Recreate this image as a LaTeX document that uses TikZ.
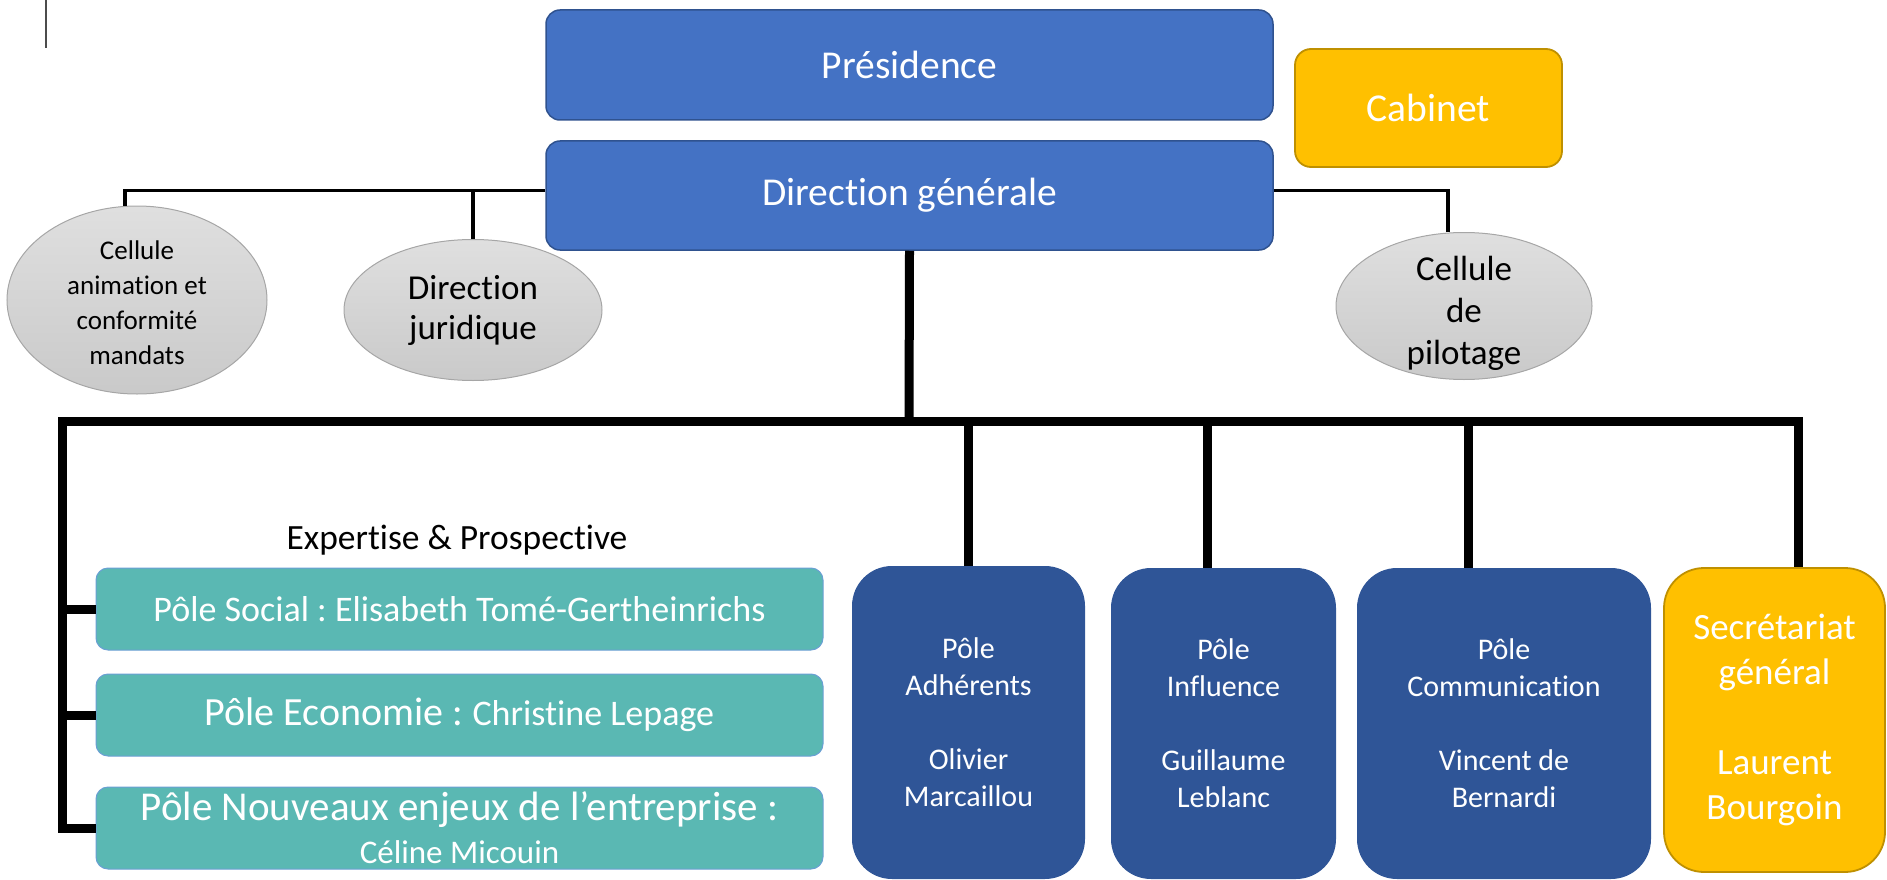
\documentclass[tikz,border=0pt]{standalone}
\usepackage{fontspec}
\setmainfont{Carlito}[Ligatures=NoCommon]
\usetikzlibrary{shapes.geometric}
\definecolor{pblue}{HTML}{4472C4}
\definecolor{pblueb}{HTML}{2F528F}
\definecolor{dblue}{HTML}{2F5597}
\definecolor{gold}{HTML}{FFC000}
\definecolor{goldb}{HTML}{BF9000}
\definecolor{tealf}{HTML}{5AB8B3}
\definecolor{tealb}{HTML}{6A9FD4}
\definecolor{ellb}{HTML}{A6A6A6}
\frenchspacing
\begin{document}
\begin{tikzpicture}[x=1pt,y=-1pt,
 topbox/.style={draw=pblueb, line width=1.5pt, fill=pblue, rounded corners=14pt, text=white, inner sep=0pt, font=\fontsize{39.5}{47}\selectfont},
 cabbox/.style={draw=goldb, line width=1.8pt, fill=gold, rounded corners=16pt, text=white, inner sep=0pt, align=center},
 oval/.style={ellipse, draw=ellb, line width=1pt, top color=gray!25, bottom color=gray!42, inner sep=0pt},
 ovaltext/.style={align=center, inner sep=0pt, text=black},
 tealbox/.style={draw=tealb, line width=1pt, fill=tealf, rounded corners=12pt, text=white, inner sep=0pt, minimum width=727pt, minimum height=82pt, align=center},
 polebox/.style={fill=dblue, rounded corners=40pt, text=white, inner sep=0pt, align=center, font=\fontsize{30}{37}\selectfont},
 thinlink/.style={line width=3.5pt, black},
 thicklink/.style={line width=9pt, black, line join=miter},
]
\useasboundingbox (0,0) rectangle (1887,880);
\draw[line width=2pt, gray!60!black] (46,0) -- (46,48);

% top boxes
\node[topbox, minimum width=727pt, minimum height=110pt] (pres) at (909.5,65) {Présidence};
\node[topbox, minimum width=727pt, minimum height=109pt] (dg) at (909.5,195.5) {Direction générale};
\node[cabbox, minimum width=267pt, minimum height=118pt, font=\fontsize{39.5}{47}\selectfont] (cab) at (1428.5,108) {Cabinet};

% ellipses
\node[oval, minimum width=260pt, minimum height=188pt] (cam) at (137,300) {};
\node[ovaltext, font=\fontsize{27}{35}\selectfont] (camt) at ([yshift=-3pt]cam.center) {Cellule\\animation et\\conformité\\mandats};
\node[oval, minimum width=258pt, minimum height=141pt] (dj) at (473,310) {};
\node[ovaltext, font=\fontsize{35}{40}\selectfont] (djt) at (dj.center) {Direction\\juridique};
\node[oval, minimum width=256pt, minimum height=147pt] (pil) at (1464,306) {};
\node[ovaltext, font=\fontsize{35}{42}\selectfont] (pilt) at ([yshift=-7pt]pil.center) {Cellule\\de\\pilotage};

% expertise
\node[inner sep=0pt, font=\fontsize{35.5}{42}\selectfont] (exp) at (457,540) {Expertise \& Prospective};
\node[tealbox, font=\fontsize{36}{43}\selectfont] (p1) at (459.5,609) {Pôle Social : Elisabeth Tomé-Gertheinrichs};
\node[tealbox] (p2) at (459.5,715) {{\fontsize{40}{48}\selectfont Pôle Economie : }{\fontsize{36}{43}\selectfont Christine Lepage}};
\node[tealbox, font=\fontsize{36}{43}\selectfont] (p3) at (459.5,828) {{\fontsize{41}{43}\selectfont Pôle Nouveaux enjeux de l’entreprise :}\\{\fontsize{33}{43}\selectfont Céline Micouin}};

% poles
\node[polebox, minimum width=233pt, minimum height=313pt] (ad) at (968.5,722.5) {Pôle\\Adhérents\\\strut\\Olivier\\Marcaillou};
\node[polebox, minimum width=225pt, minimum height=311pt] (infl) at (1223.5,723.5) {Pôle\\Influence\\\strut\\Guillaume\\Leblanc};
\node[polebox, minimum width=294pt, minimum height=311pt] (comm) at (1504,723.5) {Pôle\\Communication\\\strut\\Vincent de\\Bernardi};
\node[cabbox, rounded corners=40pt, minimum width=221pt, minimum height=304pt, font=\fontsize{37}{45}\selectfont] (sec) at (1774.5,720) {Secrétariat\\général\\\strut\\Laurent\\Bourgoin};

% thin links
\draw[thinlink] ([yshift=5pt]dg.west) -| ([xshift=-12pt]cam.north);
\draw[thinlink] (dj.north) |- ([yshift=5pt]dg.west);
\draw[thinlink] ([yshift=5pt]dg.east) -| ([xshift=-16pt]pil.north);

% thick links
\coordinate (hub) at (909,421);
\coordinate (lt) at (62,421);
\coordinate (secdrop) at ([xshift=24pt]sec.north);
\coordinate (infldrop) at ([xshift=-16pt]infl.north);
\coordinate (commdrop) at ([xshift=-36pt]comm.north);
\draw[thicklink] (dg.south) -- (hub);
\draw[thicklink] (p3.west) -| (lt) -| (secdrop);
\draw[thicklink] (p1.west) -- (p1.west -| lt);
\draw[thicklink] (p2.west) -- (p2.west -| lt);
\draw[thicklink] (ad.north) -- (ad.north |- lt);
\draw[thicklink] (infldrop) -- (infldrop |- lt);
\draw[thicklink] (commdrop) -- (commdrop |- lt);
\end{tikzpicture}
\end{document}
